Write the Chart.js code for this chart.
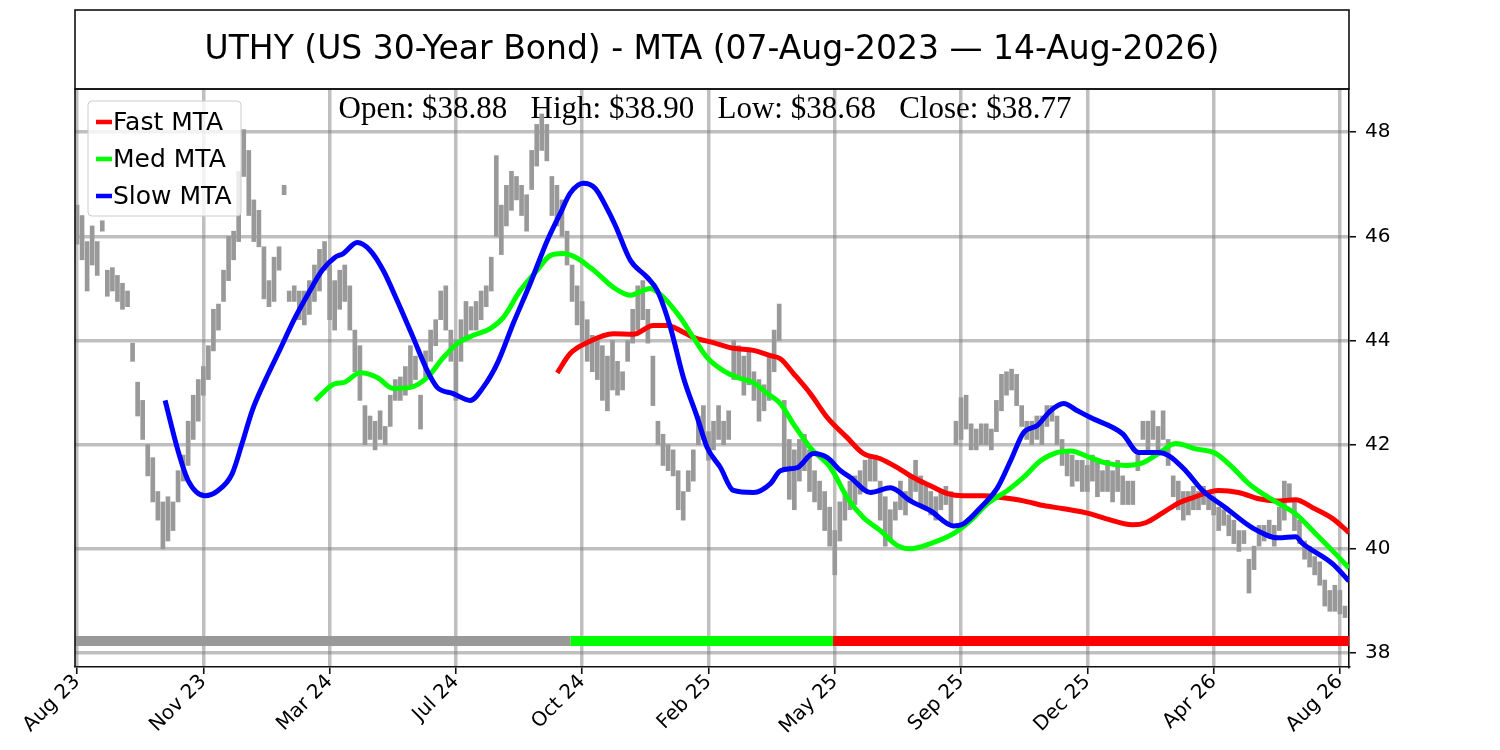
<!DOCTYPE html>
<html>
<head>
<meta charset="utf-8">
<script src="https://cdn.jsdelivr.net/npm/chart.js@4.4.1/dist/chart.umd.min.js"></script>
<style>
    html, body { margin: 0; padding: 0; background: #fff; }
    canvas { display: block; }
</style>
</head>
<body>
<canvas id="mta-chart" width="1500" height="750"></canvas>
<script>
// --- data ---
const titleText = 'UTHY (US 30-Year Bond) - MTA (07-Aug-2023 \u2014 14-Aug-2026)';
const lastBar = { open: 38.88, high: 38.90, low: 38.68, close: 38.77 };

// x is the trading-day index; ticks every 75 sessions
const tickPos = [0, 75, 150, 225, 300, 375, 450, 525, 600, 675, 750];
const tickLabels = ['Aug 23', 'Nov 23', 'Mar 24', 'Jul 24', 'Oct 24', 'Feb 25', 'May 25', 'Sep 25', 'Dec 25', 'Apr 26', 'Aug 26'];
const yTicks = [38, 40, 42, 44, 46, 48];

// price bars, one every 3 sessions starting at index 0
const barStep = 3;
const barHigh = [
    46.6, 46.4, 45.9, 46.2, 45.9, 46.3, 45.35, 45.4, 45.25, 45.1, 44.95, 43.95, 43.2, 42.85, 42.0, 41.75,
    41.1, 40.9, 41.0, 40.9, 41.5, 41.8, 42.45, 42.95, 43.25, 43.5, 43.9, 44.6, 44.7, 45.35, 46.0, 46.1,
    47.25, 48.05, 47.65, 46.7, 46.5, 45.8, 45.15, 45.6, 45.8, 46.98, 44.95, 45.05, 44.95, 44.95, 45.15, 45.45,
    45.75, 45.9, 45.45, 45.15, 45.35, 45.45, 45.05, 44.2, 43.9, 42.75, 42.55, 42.45, 42.65, 42.35, 42.95, 43.25,
    43.3, 43.5, 43.9, 43.7, 42.95, 43.8, 44.2, 44.4, 44.95, 45.05, 44.2, 44.0, 44.4, 44.75, 44.65, 44.75,
    44.95, 45.05, 45.6, 47.55, 46.6, 46.98, 47.25, 47.15, 46.98, 46.8, 47.65, 48.15, 48.35, 48.15, 47.15, 46.98,
    46.7, 46.1, 45.45, 45.05, 44.75, 44.4, 44.1, 44.0, 43.9, 43.7, 44.0, 43.6, 43.4, 44.0, 44.6, 45.05,
    45.15, 44.6, 43.7, 42.45, 42.2, 42.0, 41.9, 41.5, 41.1, 41.5, 41.9, 42.55, 42.75, 42.25, 42.45, 42.75,
    42.45, 42.65, 44.0, 43.9, 43.7, 43.8, 43.4, 43.25, 43.15, 43.7, 44.2, 44.7, 42.85, 42.1, 41.9, 42.1,
    42.2, 41.9, 41.5, 41.3, 41.1, 40.8, 40.35, 40.9, 41.1, 41.3, 41.4, 41.5, 41.7, 41.8, 41.8, 41.3,
    41.0, 40.75, 40.9, 41.3, 41.1, 41.4, 41.7, 41.4, 41.2, 41.1, 41.0, 41.1, 41.2, 41.1, 42.45, 42.9,
    42.95, 42.4, 42.3, 42.4, 42.4, 42.3, 42.85, 43.35, 43.4, 43.45, 43.35, 42.75, 42.45, 42.45, 42.55, 42.55,
    42.75, 42.75, 42.55, 42.1, 41.9, 41.8, 41.7, 41.7, 41.6, 41.8, 41.7, 41.5, 41.7, 41.5, 41.7, 41.4,
    41.3, 41.3, 41.8, 42.45, 42.45, 42.65, 42.35, 42.65, 42.1, 41.4, 41.3, 41.1, 41.1, 41.2, 41.1, 41.2,
    41.1, 41.0, 40.8, 40.75, 40.65, 40.55, 40.35, 40.35, 39.8, 40.05, 40.45, 40.45, 40.55, 40.45, 40.8, 41.3,
    41.25, 40.9, 40.55, 40.15, 40.05, 39.85, 39.75, 39.4, 39.2, 39.3, 39.2, 38.9
];
const barLow = [
    45.85, 45.55, 44.95, 45.45, 45.25, 46.1, 44.85, 44.95, 44.75, 44.6, 44.65, 43.6, 42.55, 42.1, 41.4, 40.9,
    40.55, 40.0, 40.15, 40.35, 40.9, 41.3, 41.6, 42.1, 42.45, 42.95, 43.25, 43.8, 44.2, 44.75, 45.15, 45.55,
    45.9, 47.15, 46.4, 45.9, 45.8, 44.8, 44.65, 44.75, 45.35, 46.8, 44.75, 44.75, 44.4, 44.3, 44.5, 44.75,
    44.95, 45.35, 44.4, 44.2, 44.6, 44.75, 44.2, 43.4, 42.85, 42.0, 42.1, 41.9, 42.1, 42.0, 42.35, 42.85,
    42.85, 42.95, 43.15, 43.25, 42.3, 43.3, 43.6, 43.9, 44.4, 44.2, 43.6, 42.85, 43.6, 44.0, 44.2, 44.2,
    44.4, 44.65, 44.95, 46.0, 45.65, 46.2, 46.5, 46.7, 46.4, 46.1, 46.9, 47.35, 47.65, 47.45, 46.4, 46.2,
    46.0, 45.45, 44.75, 44.3, 44.0, 43.6, 43.4, 43.25, 42.85, 42.65, 43.05, 42.95, 43.05, 43.6, 43.95, 44.2,
    44.4, 43.95, 42.75, 42.0, 41.6, 41.5, 41.4, 40.75, 40.55, 41.1, 41.3, 42.0, 42.1, 41.7, 41.9, 42.1,
    42.0, 42.1, 43.25, 43.3, 42.95, 43.15, 42.85, 42.45, 42.65, 42.85, 43.4, 44.0, 41.5, 40.95, 40.75, 41.3,
    41.5, 41.1, 40.9, 40.75, 40.35, 40.05, 39.5, 40.15, 40.55, 40.75, 40.85, 41.05, 41.1, 41.3, 41.3, 40.55,
    40.05, 40.15, 40.55, 40.75, 40.65, 40.9, 41.1, 40.85, 40.75, 40.65, 40.55, 40.75, 40.85, 40.45, 42.0, 42.1,
    42.3, 41.9, 41.9, 42.0, 42.0, 41.9, 42.25, 42.65, 42.95, 43.05, 42.75, 42.35, 42.1, 42.0, 42.1, 42.0,
    42.35, 42.45, 42.0, 41.6, 41.4, 41.2, 41.3, 41.1, 41.1, 41.3, 41.0, 41.1, 41.1, 40.9, 41.1, 40.85,
    40.85, 40.85, 41.5, 42.1, 41.9, 42.1, 41.9, 42.1, 41.6, 41.0, 40.75, 40.55, 40.65, 40.75, 40.75, 40.85,
    40.75, 40.65, 40.35, 40.45, 40.25, 40.1, 39.95, 40.1, 39.15, 39.6, 40.05, 40.15, 40.25, 40.05, 40.35, 40.55,
    40.9, 40.35, 40.1, 39.8, 39.65, 39.5, 39.3, 38.9, 38.8, 38.8, 38.75, 38.68
];

// moving trend averages (index, value)
const fastIdx = [285.2, 292.9, 303.0, 318.5, 330.4, 342.2, 350.6, 358.3, 366.0, 377.9, 389.8, 401.7, 411.8, 417.7,
    425.4, 435.5, 445.6, 457.5, 467.0, 477.1, 487.2, 496.7, 506.8, 516.9, 526.4, 538.3, 550.2, 562.1, 574.0,
    585.9, 601.9, 610.8, 626.9, 634.6, 644.7, 654.2, 662.5, 678.0, 689.8, 701.7, 711.8, 723.7, 733.8, 745.7, 755.4];
const fastVal = [43.38, 43.75, 43.96, 44.13, 44.12, 44.29, 44.29, 44.19, 44.06, 43.96, 43.85, 43.81, 43.71, 43.65,
    43.37, 42.98, 42.52, 42.13, 41.83, 41.73, 41.56, 41.37, 41.21, 41.06, 41.02, 41.02, 40.98, 40.92, 40.83,
    40.77, 40.67, 40.58, 40.46, 40.5, 40.69, 40.88, 40.98, 41.12, 41.08, 40.96, 40.92, 40.94, 40.79, 40.58, 40.31];

const medIdx = [141.4, 153.3, 158.1, 168.2, 178.3, 187.8, 197.9, 208.0, 217.5, 225.8, 235.3, 245.4, 253.1, 263.2,
    273.3, 281.0, 288.8, 297.1, 304.8, 309.0, 318.5, 328.6, 340.5, 348.2, 358.3, 366.0, 374.3, 383.8, 392.2,
    401.7, 410.0, 417.7, 425.4, 435.5, 447.4, 457.5, 467.0, 477.1, 487.2, 494.9, 506.8, 520.5, 530.6, 540.7,
    552.6, 562.1, 572.2, 582.3, 590.0, 601.9, 610.8, 622.7, 632.8, 642.3, 652.4, 664.3, 676.2, 686.3, 695.8,
    705.9, 713.6, 723.7, 735.6, 745.7, 755.4];
const medVal = [42.85, 43.17, 43.19, 43.38, 43.29, 43.08, 43.1, 43.29, 43.67, 43.94, 44.1, 44.23, 44.44, 44.96,
    45.35, 45.63, 45.67, 45.58, 45.4, 45.29, 45.02, 44.87, 45.0, 44.83, 44.44, 44.06, 43.67, 43.42, 43.29,
    43.19, 42.98, 42.79, 42.4, 41.94, 41.56, 40.98, 40.6, 40.35, 40.06, 40.0, 40.1, 40.29, 40.54, 40.87,
    41.12, 41.37, 41.69, 41.85, 41.88, 41.75, 41.65, 41.6, 41.65, 41.83, 42.02, 41.92, 41.83, 41.56, 41.25,
    41.02, 40.87, 40.67, 40.29, 39.96, 39.63];

const slowIdx = [52.3, 60.0, 66.0, 76.1, 83.8, 92.1, 98.0, 104.0, 111.7, 119.4, 129.5, 137.3, 145.6, 153.3, 158.1,
    166.4, 174.1, 181.8, 190.1, 199.6, 208.0, 213.9, 223.4, 233.5, 241.2, 249.6, 259.1, 269.2, 279.3, 287.0,
    292.9, 300.7, 307.8, 313.7, 319.7, 328.6, 338.7, 344.6, 352.4, 360.1, 368.4, 374.3, 382.1, 389.8, 401.7,
    411.8, 417.7, 427.8, 437.3, 445.6, 453.4, 459.3, 471.2, 483.1, 494.9, 506.8, 520.5, 526.4, 536.5, 546.6,
    554.4, 562.1, 570.4, 578.1, 585.9, 594.2, 601.9, 620.9, 630.4, 642.3, 648.3, 658.4, 668.4, 682.1, 698.2,
    713.6, 723.7, 727.9, 745.7, 755.4];
const slowVal = [42.85, 41.88, 41.31, 41.02, 41.12, 41.44, 42.02, 42.65, 43.23, 43.75, 44.44, 44.9, 45.35, 45.6, 45.67,
    45.88, 45.73, 45.35, 44.77, 44.06, 43.42, 43.1, 42.98, 42.85, 43.1, 43.56, 44.33, 45.1, 45.92, 46.44,
    46.83, 47.02, 46.92, 46.6, 46.21, 45.54, 45.21, 44.96, 44.25, 43.29, 42.52, 41.94, 41.56, 41.12, 41.08,
    41.25, 41.5, 41.56, 41.83, 41.75, 41.5, 41.37, 41.08, 41.17, 40.92, 40.73, 40.44, 40.48, 40.79, 41.17,
    41.69, 42.23, 42.37, 42.65, 42.79, 42.65, 42.52, 42.21, 41.85, 41.85, 41.79, 41.5, 41.12, 40.79, 40.4,
    40.21, 40.23, 40.1, 39.71, 39.38];

// regime strip along the bottom
const regimeLevel = 38.23;
const regimeStart = [-1.2, 293, 449];
const regimeEnd = [293, 449, 755.4];
const regimeColors = ['#999999', '#00ff00', '#ff0000'];

// --- build datasets ---
const toPoints = (xs, ys) => xs.map((x, i) => ({ x: x, y: ys[i] }));
const barPoints = barHigh.map((h, i) => ({ x: i * barStep, y: [barLow[i], h] }));

const regimeSets = regimeStart.map((s, i) => ({
    type: 'line',
    label: 'regime' + i,
    data: [{ x: s, y: regimeLevel }, { x: regimeEnd[i], y: regimeLevel }],
    borderColor: regimeColors[i],
    borderWidth: 10,
    borderCapStyle: 'butt',
    pointRadius: 0,
    order: 4,
    inLegend: false
}));

const lineSet = (label, xs, ys, color, order) => ({
    type: 'line',
    label: label,
    data: toPoints(xs, ys),
    borderColor: color,
    backgroundColor: color,
    borderWidth: 5,
    pointRadius: 0,
    cubicInterpolationMode: 'monotone',
    order: order,
    inLegend: true
});

const tickFont = { family: 'DejaVu Sans', size: 20 };
const gridStyle = {
    offset: false,
    color: 'rgba(128,128,128,0.5)',
    lineWidth: 3.5,
    tickLength: 7,
    tickColor: '#111',
    tickWidth: 1.6
};

// frame, title, OHLC line and legend box
const chrome = {
    id: 'chrome',
    afterDatasetsDraw(chart) {
        const ctx = chart.ctx;
        const a = chart.chartArea;
        ctx.save();

        ctx.strokeStyle = '#111';
        ctx.lineWidth = 1.6;
        ctx.beginPath();
        ctx.moveTo(a.left, a.bottom);
        ctx.lineTo(a.left, a.top);
        ctx.lineTo(a.right, a.top);
        ctx.stroke();
        ctx.strokeRect(a.left, 10, a.right - a.left, a.top - 10);

        ctx.fillStyle = '#000';
        ctx.textAlign = 'center';
        ctx.textBaseline = 'middle';
        ctx.font = '33px "DejaVu Sans"';
        ctx.fillText(titleText, (a.left + a.right) / 2, 50);

        ctx.font = '31px "Liberation Serif"';
        const f = v => '$' + v.toFixed(2);
        ctx.fillText('Open: ' + f(lastBar.open) + '   High: ' + f(lastBar.high) +
            '   Low: ' + f(lastBar.low) + '   Close: ' + f(lastBar.close), 705, 110);

        // legend
        const items = chart.data.datasets.filter(d => d.inLegend);
        const bx = 88, by = 101, bw = 153, bh = 115;
        ctx.fillStyle = 'rgba(255,255,255,0.8)';
        ctx.strokeStyle = '#cccccc';
        ctx.lineWidth = 1;
        ctx.beginPath();
        ctx.roundRect(bx, by, bw, bh, 4);
        ctx.fill();
        ctx.stroke();
        ctx.font = '25px "DejaVu Sans"';
        ctx.textAlign = 'left';
        items.forEach((d, i) => {
            const y = 122 + i * 37;
            ctx.strokeStyle = d.borderColor;
            ctx.lineWidth = 4.5;
            ctx.beginPath();
            ctx.moveTo(96, y);
            ctx.lineTo(112, y);
            ctx.stroke();
            ctx.fillStyle = '#000';
            ctx.fillText(d.label, 113, y + 1);
        });
        ctx.restore();
    }
};

new Chart(document.getElementById('mta-chart').getContext('2d'), {
    type: 'bar',
    data: {
        datasets: [
            lineSet('Fast MTA', fastIdx, fastVal, '#ff0000', 3),
            lineSet('Med MTA', medIdx, medVal, '#00ff00', 2),
            lineSet('Slow MTA', slowIdx, slowVal, '#0000ff', 1),
            ...regimeSets,
            {
                type: 'bar',
                label: 'Price',
                data: barPoints,
                backgroundColor: '#999999',
                barThickness: 4,
                order: 10,
                inLegend: false
            }
        ]
    },
    options: {
        responsive: false,
        animation: false,
        devicePixelRatio: 1,
        layout: { padding: { left: 75, top: 89, right: 0, bottom: 0 } },
        scales: {
            x: {
                type: 'linear',
                min: -1.2,
                max: 755.4,
                offset: false,
                afterBuildTicks: s => { s.ticks = tickPos.map(v => ({ value: v })); },
                afterFit: s => { s.height = 83; },
                ticks: {
                    autoSkip: false,
                    maxRotation: 45,
                    minRotation: 45,
                    padding: -4,
                    color: '#000',
                    font: tickFont,
                    callback: (v, i) => tickLabels[i]
                },
                grid: gridStyle,
                border: { display: true, color: '#111', width: 1.6 }
            },
            y: {
                type: 'linear',
                position: 'right',
                min: 37.73,
                max: 48.83,
                afterBuildTicks: s => { s.ticks = yTicks.map(v => ({ value: v })); },
                afterFit: s => { s.width = 151; },
                ticks: { padding: 9, color: '#000', font: tickFont },
                grid: gridStyle,
                border: { display: true, color: '#111', width: 1.6 }
            }
        },
        plugins: {
            legend: { display: false },
            tooltip: { enabled: false }
        }
    },
    plugins: [chrome]
});
</script>
</body>
</html>
